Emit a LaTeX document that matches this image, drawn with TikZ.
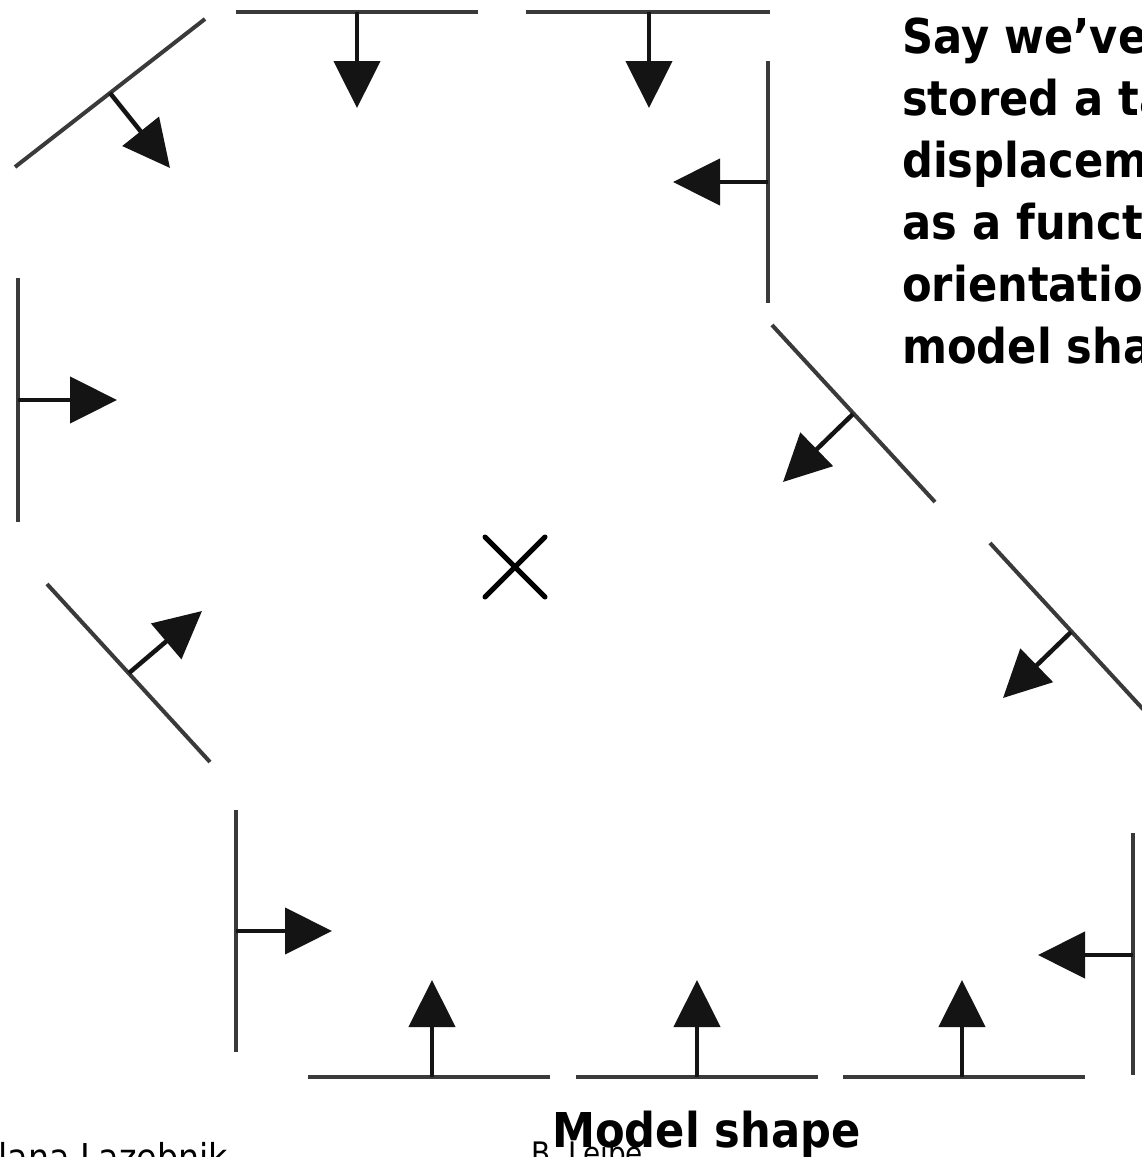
\documentclass[tikz,border=0pt]{standalone}
\usepackage{fontspec}
\newfontfamily\slidefont[FakeStretch=0.9]{DejaVu Sans}
\usetikzlibrary{arrows.meta}
\definecolor{edgegray}{HTML}{3A3A3A}
\definecolor{tipblack}{HTML}{141414}
\tikzset{
  edgeline/.style={draw=edgegray, line width=4pt, line cap=butt},
  gradarrow/.style={draw=tipblack, line width=4.5pt, -{Triangle[length=47pt,width=46pt]}},
  crossline/.style={draw=black, line width=5pt, line cap=round},
  bodytext/.style={font=\slidefont\bfseries\fontsize{48}{58}\selectfont, inner sep=0pt, anchor=base west, text=black},
  foottext/.style={font=\slidefont\fontsize{34}{40}\selectfont, inner sep=0pt, text=black},
}
\begin{document}
\begin{tikzpicture}[x=1pt, y=-1pt]
\useasboundingbox (0,0) rectangle (1142,1157);
\clip (0,0) rectangle (1142,1157);
\fill[white] (0,0) rectangle (1142,1157);

% edge segments: endpoints a/b, stem base m, arrow tip t
\newcommand{\edgeunit}[5]{%
  \coordinate (#1a) at (#2);
  \coordinate (#1b) at (#3);
  \coordinate (#1m) at (#4);
  \coordinate (#1t) at (#5);
  \draw[edgeline] (#1a) -- (#1b);
  \draw[gradarrow] (#1m) -- (#1t);
}
\edgeunit{e1}{15,167}{205,19}{110,93}{170,168}
\edgeunit{e2}{236,12}{478,12}{357,12}{357,108}
\edgeunit{e3}{526,12}{770,12}{649,12}{649,108}
\edgeunit{e4}{768,61}{768,303}{768,182}{673,182}
\edgeunit{e5}{772,325}{935,502}{853,414}{783,482}
\edgeunit{e6}{990,543}{1153,720}{1071,632}{1003,698}
\edgeunit{e7}{1133,833}{1133,1075}{1133,955}{1038,955}
\edgeunit{e8}{308,1077}{550,1077}{432,1077}{432,980}
\edgeunit{e9}{576,1077}{818,1077}{697,1077}{697,980}
\edgeunit{e10}{843,1077}{1085,1077}{962,1077}{962,980}
\edgeunit{e11}{236,810}{236,1052}{236,931}{332,931}
\edgeunit{e12}{47,584}{210,762}{129,673}{202,611}
\edgeunit{e13}{18,278}{18,522}{18,400}{117,400}

% reference point cross
\coordinate (c1) at (485,537);
\coordinate (c2) at (545,597);
\coordinate (c3) at (545,537);
\coordinate (c4) at (485,597);
\draw[crossline] (c1) -- (c2);
\draw[crossline] (c3) -- (c4);

% right text block
\node[bodytext] (t1) at (902,53) {Say we’ve already};
\node[bodytext] (t2) at (902,115) {stored a table of};
\node[bodytext] (t3) at (902,177) {displacement vectors};
\node[bodytext] (t4) at (902,239) {as a function of edge};
\node[bodytext] (t5) at (902,301) {orientation for this};
\node[bodytext] (t6) at (902,363) {model shape.};

% footers
\node[foottext, anchor=base east, font=\slidefont\fontsize{37}{40}\selectfont] (f1) at (228,1170) {Svetlana Lazebnik};
\node[foottext, anchor=base west, font=\slidefont\fontsize{31}{36}\selectfont] (f2) at (531,1164) {B. Leibe};

% caption
\node[bodytext] (cap) at (552,1147) {Model shape};
\end{tikzpicture}
\end{document}
